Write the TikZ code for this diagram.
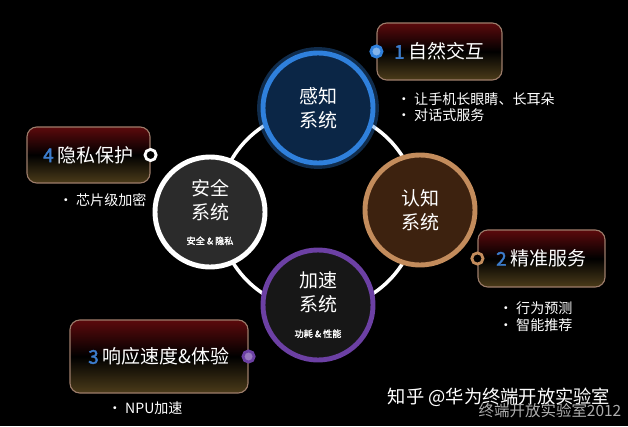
\documentclass[tikz,border=0pt]{standalone}
\usepackage{fontspec}
\setmainfont{Noto Sans CJK SC}[AutoFakeBold=2]
\definecolor{ganblue}{HTML}{2F80DC}
\definecolor{ganfill}{HTML}{0B2646}
\definecolor{anfill}{HTML}{2B2B2B}
\definecolor{renline}{HTML}{C38C5C}
\definecolor{renfill}{HTML}{3D220F}
\definecolor{jiapurple}{HTML}{6C40A4}
\definecolor{jiafill}{HTML}{171717}
\definecolor{boxline}{HTML}{9C7C6A}
\definecolor{boxtop}{HTML}{5C0A0C}
\definecolor{boxbot}{HTML}{4C3C1A}
\definecolor{numblue}{HTML}{3C7CCC}
\newcommand{\num}[1]{\textcolor{numblue}{\textbf{#1}}~}
\newcommand{\subtag}[1]{{\fontsize{6.5}{8}\selectfont\bfseries #1}}
\begin{document}
\begin{tikzpicture}[x=0.025cm,y=-0.025cm,
    sys/.style={circle,minimum size=2.75cm,line width=3.5pt,align=center,
      text=white,font=\fontsize{13.5}{17}\selectfont},
    goal/.style={draw=boxline,line width=0.8pt,rounded corners=7pt,
      top color=boxtop,bottom color=boxbot,middle color=black,
      text=white,font=\fontsize{13.5}{17}\selectfont},
    hook/.style={circle,inner sep=0pt,minimum size=0.28cm,line width=2pt,fill=black},
    item/.style={anchor=west,text=white,font=\fontsize{10}{13}\selectfont}]
  \fill[black] (0,0) rectangle (628,426);
  \useasboundingbox (0,0) rectangle (628,426);
  \coordinate (c) at (318,210);
  \draw[white,line width=2.5pt] (c) circle (2.5cm);
  % four systems
  \draw[ganblue,opacity=0.35,line width=7pt] (318,108) circle (1.4cm);
  \node[sys,draw=ganblue,fill=ganfill] (gz) at (318,108) {感知\\系统};
  \node[sys,draw=white,fill=anfill] (aq) at (210,212) {安全\\系统\\[1pt]\subtag{安全 \& 隐私}};
  \node[sys,draw=renline,fill=renfill] (rz) at (420,210) {认知\\系统};
  \node[sys,draw=jiapurple,fill=jiafill] (js) at (318,305) {加速\\系统\\[1pt]\subtag{功耗 \& 性能}};
  % goals
  \node[goal,minimum width=3.125cm,minimum height=1.425cm] (g1) at (439.5,51.5) {\num{1}自然交互};
  \node[goal,minimum width=3.175cm,minimum height=1.425cm] (g2) at (541.5,258.5) {\num{2}精准服务};
  \node[goal,minimum width=4.45cm,minimum height=1.825cm] (g3) at (159,356.5) {\num{3}响应速度\&体验};
  \node[goal,minimum width=3.075cm,minimum height=1.4cm] (g4) at (88.5,155) {\num{4}隐私保护};
  \node[hook,draw=ganblue,fill=ganblue!60!white] (h1) at (g1.west) {};
  \node[hook,draw=renline] (h2) at (g2.west) {};
  \node[hook,draw=jiapurple,fill=jiapurple!70!white] (h3) at (g3.east) {};
  \node[hook,draw=white] (h4) at (g4.east) {};
  % bullets
  \node[item] (t1a) at (392,99) {• 让手机长眼睛、长耳朵};
  \node[item] (t1b) at (392,115) {• 对话式服务};
  \node[item] (t2a) at (494,308) {• 行为预测};
  \node[item] (t2b) at (494,325) {• 智能推荐};
  \node[item] (t3a) at (103,408) {• NPU加速};
  \node[item] (t4a) at (54,200) {• 芯片级加密};
  % marks
  \node[text=white,font=\fontsize{13}{15}\selectfont] (wm) at (499,397) {知乎 @华为终端开放实验室};
  \node[text=white!80!black,opacity=0.85,font=\fontsize{11}{13}\selectfont] (wb) at (550,411) {终端开放实验室2012};
\end{tikzpicture}
\end{document}
